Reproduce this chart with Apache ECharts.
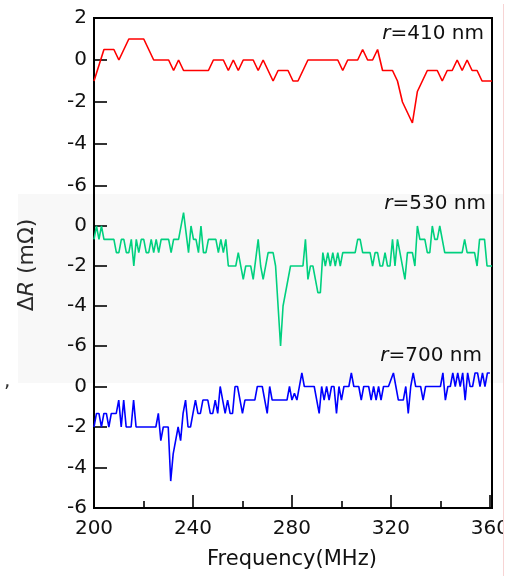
<!DOCTYPE html>
<html>
<head>
<meta charset="utf-8">
<script src="https://cdn.jsdelivr.net/npm/echarts@6/dist/echarts.min.js"></script>
<style>html,body{margin:0;padding:0;background:#fff}#c{width:512px;height:576px}</style>
</head>
<body>
<div id="c"></div>
<script>
// x ticks
const xTicks = [200, 240, 280, 320, 360];
// panel labels
const panelLabels = ['=410 nm', '=530 nm', '=700 nm'];

// r = 410 nm (red)
const redFreq = [200,204,208,210,214,220,224,230,232,234,236,246,248,252,254,256,258,260,264,266,268,272,274,278,280,282,286,298,300,302,306,308,310,312,314,316,320,322,324,328,330,334,338,340,342,344,346,348,350,352,354,356,360];
const redVal = [-1,0.5,0.5,0,1,1,0,0,-0.5,0,-0.5,-0.5,0,0,-0.5,0,-0.5,0,0,-0.5,0,-1,-0.5,-0.5,-1,-1,0,0,-0.5,0,0,0.5,0,0,0.5,-0.5,-0.5,-1,-2,-3,-1.5,-0.5,-0.5,-1,-0.5,-0.5,0,-0.5,0,-0.5,-0.5,-1,-1];

// r = 530 nm (green)
const greenFreq = [200,201,202,203,204,208,209,210,211,212,213,214,215,216,217,218,219,220,221,222,223,224,225,226,227,230,231,232,234,236,238,239,240,241,242,243,244,245,246,249,250,251,252,253,254,257,258,260,261,263,264,266,267,268,270,272,273,275,276,279,284,285,286,287,288,290,291,292,293,294,295,296,297,298,299,300,301,305,306,307,308,311,312,313,314,315,316,317,318,319,320,321,322,323,325,326,328,329,330,331,333,334,335,336,337,338,339,341,348,349,350,353,354,355,357,358,360];
const greenVal = [-0.67,0,-0.67,0,-0.67,-0.67,-1.33,-1.33,-0.67,-0.67,-1.33,-1.33,-0.67,-2,-0.67,-1.33,-0.67,-0.67,-1.33,-1.33,-0.67,-1.33,-0.67,-1.33,-0.67,-0.67,-1.33,-0.67,-0.67,0.67,-1.33,0,-0.67,-0.67,-1.33,0,-1.33,-1.33,-0.67,-0.67,-1.33,-0.67,-1.33,-0.67,-2,-2,-1.33,-2.67,-2,-2,-2.67,-0.67,-2,-2.67,-1.33,-1.33,-2,-6,-4,-2,-2,-0.67,-2.67,-2,-2,-3.33,-3.33,-1.33,-2,-1.33,-2,-1.33,-2,-1.33,-2,-1.33,-1.33,-1.33,-0.67,-0.67,-1.33,-1.33,-2,-1.33,-1.33,-2,-2,-1.33,-2,-2,-0.67,-2,-0.67,-1.33,-2.67,-1.33,-1.33,-2,0,-0.67,-0.67,-1.33,-1.33,0,-0.67,-0.67,0,-1.33,-1.33,-0.67,-1.33,-1.33,-2,-0.67,-0.67,-2,-2];

// r = 700 nm (blue)
const blueFreq = [200,201,202,203,204,205,206,207,209,210,211,212,213,215,216,217,225,226,227,228,230,231,232,234,235,236,237,238,239,240,241,242,243,244,246,247,248,249,250,251,252,253,254,255,256,257,258,260,261,265,266,268,270,271,272,278,279,280,281,282,284,285,289,291,292,293,294,295,296,297,298,299,300,301,303,304,305,307,308,309,311,312,313,314,315,316,317,319,321,322,323,325,326,327,328,329,330,332,333,334,340,341,342,343,344,345,346,347,348,349,350,351,352,353,354,355,356,357,358,359,360];
const blueVal = [-2,-1.33,-1.33,-2,-1.33,-1.33,-2,-1.33,-1.33,-0.67,-2,-0.67,-2,-2,-0.67,-2,-2,-1.33,-2.67,-2,-2,-4.67,-3.33,-2,-2.67,-1.33,-0.67,-2,-2,-1.33,-0.67,-1.33,-1.33,-0.67,-0.67,-1.33,-1.33,-0.67,-1.33,0,-0.67,-1.33,-0.67,-1.33,-1.33,0,0,-1.33,-0.67,-0.67,0,0,-1.33,0,-0.67,-0.67,0,-0.67,-0.33,-0.67,0.67,0,0,-1.33,0,-0.67,0,-0.67,0,0,-1.33,0,-0.67,0,0,0.67,0,0,-0.67,0,0,-0.67,0,-0.67,0,-0.67,0,0,0.67,0,-0.67,-0.67,0,-1.33,0,0.67,0,0,-0.67,0,0,0.67,-0.67,0,0,0.67,0,0.67,0,0.67,-0.67,0.67,0,0,0.67,0.67,0,0.67,0,0.67,0.67];

const seriesDefs = [
  {freq: redFreq, val: redVal, color: '#ff0000'},
  {freq: greenFreq, val: greenVal, color: '#00d07f'},
  {freq: blueFreq, val: blueVal, color: '#0000ff'}
];

const FONT = 'DejaVu Sans, sans-serif';
const gridsPos = [
  {top: 18, height: 168},
  {top: 186, height: 160},
  {top: 346, height: 162}
];

const chart = echarts.init(document.getElementById('c'), null, {renderer: 'canvas'});

const grid = gridsPos.map(g => ({left: 94, right: 20, top: g.top, height: g.height, containLabel: false}));
// frame grid around the whole plotting area
grid.push({left: 94, right: 20, top: 18, height: 490, show: true, borderColor: '#000', borderWidth: 2, backgroundColor: 'transparent', z: 1});
const xAxis = [];
const yAxis = [];
gridsPos.forEach((g, i) => {
  const isBottom = i === 2;
  xAxis.push({
    gridIndex: i, type: 'value', min: 200, max: 360, interval: 40,
    axisLine: {show: isBottom, onZero: false, lineStyle: {color: '#000', width: 2}},
    axisTick: {show: isBottom, inside: true, length: 13, lineStyle: {color: '#333', width: 2}},
    minorTick: {show: isBottom, splitNumber: 2, length: 7, lineStyle: {color: '#333', width: 2}},
    axisLabel: {show: isBottom, fontSize: 20, color: '#111', fontFamily: FONT, margin: 11,
      formatter: v => (xTicks.indexOf(v) >= 0 ? String(v) : '')},
    splitLine: {show: false},
    name: isBottom ? 'Frequency(MHz)' : '',
    nameLocation: 'middle', nameGap: 41,
    nameTextStyle: {fontSize: 21, color: '#111', fontFamily: FONT}
  });
  yAxis.push({
    gridIndex: i, type: 'value', min: -6, max: 2, interval: 2,
    axisLine: {show: true, onZero: false, lineStyle: {color: '#000', width: 2}},
    axisTick: {show: true, inside: true, length: 13, lineStyle: {color: '#333', width: 2},
      customValues: i === 0 ? [-6, -4, -2, 0, 2] : [-6, -4, -2, 0]},
    axisLabel: {fontSize: 20, color: '#111', fontFamily: FONT, margin: 7,
      formatter: v => (i > 0 && v === 2 ? '' : String(v))},
    splitLine: {show: false}
  });
});
xAxis.push({gridIndex: 3, type: 'value', min: 0, max: 1, show: false});
yAxis.push({gridIndex: 3, type: 'value', min: 0, max: 1, show: false});

const series = seriesDefs.map((s, i) => ({
  type: 'line',
  xAxisIndex: i, yAxisIndex: i,
  data: s.freq.map((f, k) => [f, s.val[k]]),
  showSymbol: false, symbol: 'none',
  lineStyle: {color: s.color, width: 1.6},
  itemStyle: {color: s.color},
  animation: false, z: 3
}));

const labelPos = [{x: 484, y: 34}, {x: 486, y: 204}, {x: 482, y: 356}];
const graphic = [
  {type: 'rect', z: -10, shape: {x: 18, y: 194, width: 486, height: 189}, style: {fill: '#f8f8f8'}},
  {type: 'text', z: 10, x: 4, y: 372, style: {text: ',', fontSize: 20, fill: '#333', fontFamily: FONT}},
  {type: 'text', z: 10, x: 27, y: 265, rotation: Math.PI / 2,
    style: {text: 'Δ{i|R} (mΩ)', fontSize: 22, fill: '#2a2a2a', fontFamily: FONT, align: 'center', verticalAlign: 'middle',
      rich: {i: {fontStyle: 'italic', fontSize: 22, fontFamily: FONT, fill: '#2a2a2a'}}}},
  {type: 'rect', z: 100, shape: {x: 503, y: 0, width: 9, height: 576}, style: {fill: '#ffffff'}},
  {type: 'rect', z: 101, shape: {x: 503, y: 4, width: 1, height: 572}, style: {fill: '#f7d4d4'}}
];
panelLabels.forEach((t, i) => {
  graphic.push({type: 'text', z: 10, x: labelPos[i].x, y: labelPos[i].y,
    style: {text: '{i|r}' + t, fontSize: 20, fill: '#111', fontFamily: FONT, align: 'right', verticalAlign: 'middle',
      rich: {i: {fontStyle: 'italic', fontSize: 20, fontFamily: FONT, fill: '#111'}}}});
});

chart.setOption({
  backgroundColor: '#ffffff',
  animation: false,
  grid, xAxis, yAxis, series, graphic
});
</script>
</body>
</html>
